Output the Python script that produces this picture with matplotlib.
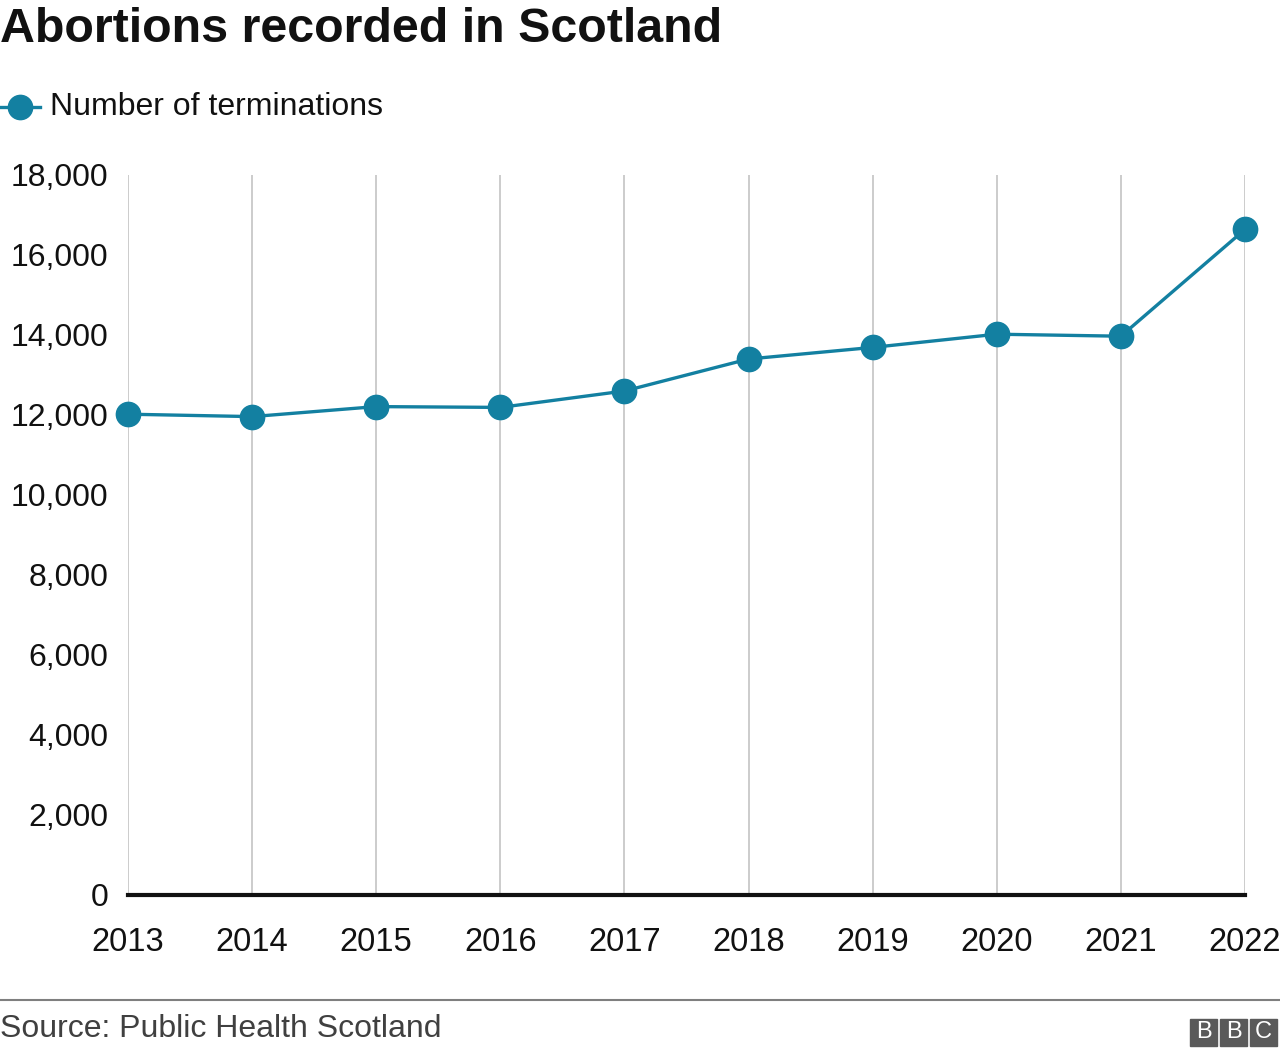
import matplotlib.pyplot as plt
from matplotlib.lines import Line2D
from matplotlib.patches import Rectangle

plt.rcParams['font.family'] = ['Liberation Sans', 'DejaVu Sans']

years = [2013, 2014, 2015, 2016, 2017, 2018, 2019, 2020, 2021, 2022]
terminations = [12020, 11960, 12210, 12190, 12600, 13400, 13690, 14020, 13970, 16640]
y_ticks = list(range(0, 18001, 2000))

teal = '#1380A1'

fig = plt.figure(figsize=(12.8, 10.56), dpi=100)
ax = fig.add_axes([128 / 1280, (1056 - 895) / 1056, (1245 - 128) / 1280, (895 - 175) / 1056])

ax.plot(years, terminations, color=teal, linewidth=2.4, marker='o',
        markersize=17.5, clip_on=False, zorder=3)

ax.set_xlim(2013, 2022)
ax.set_ylim(0, 18000)
ax.set_xticks(years)
ax.set_xticklabels([str(y) for y in years])
ax.set_yticks(y_ticks)
ax.set_yticklabels([f'{v:,}' for v in y_ticks])
ax.tick_params(axis='both', length=0, labelsize=23, colors='#111111')
ax.tick_params(axis='x', labelsize=23.5, pad=23)
ax.tick_params(axis='y', pad=14)

ax.grid(axis='x', color='#cccccc', linewidth=1.4)
ax.set_axisbelow(True)
for side in ['top', 'right', 'left']:
    ax.spines[side].set_visible(False)
ax.spines['bottom'].set_linewidth(3)
ax.spines['bottom'].set_color('#111111')
ax.spines['bottom'].set_zorder(2)

# title and legend
fig.text(0, 1 - 29 / 1056, 'Abortions recorded in Scotland', fontsize=34.8,
         fontweight='bold', va='center', ha='left', color='#111111')
leg_y = 1 - 107 / 1056
fig.add_artist(Line2D([0, 40 / 1280], [leg_y, leg_y], color=teal, linewidth=2.4))
fig.add_artist(Line2D([20 / 1280], [leg_y], color=teal, marker='o', markersize=17.5))
fig.text(50 / 1280, leg_y, 'Number of terminations', fontsize=23,
         va='center', ha='left', color='#111111')

# footer
fig.add_artist(Line2D([0, 1], [1 - 1000 / 1056, 1 - 1000 / 1056], color='#7f7f7f', linewidth=1.5))
fig.text(0, 1 - 1029 / 1056, 'Source: Public Health Scotland', fontsize=23,
         va='center', ha='left', color='#404040')
for i, letter in enumerate('BBC'):
    x0 = (1190 + i * 30) / 1280
    fig.add_artist(Rectangle((x0, 1 - 1046 / 1056), 27 / 1280, 27 / 1056,
                             color='#5a5a5a', transform=fig.transFigure))
    fig.text(x0 + 13.5 / 1280, 1 - 1032.5 / 1056, letter, fontsize=17,
             color='white', ha='center', va='center')

fig.savefig('out.png', dpi=100)
